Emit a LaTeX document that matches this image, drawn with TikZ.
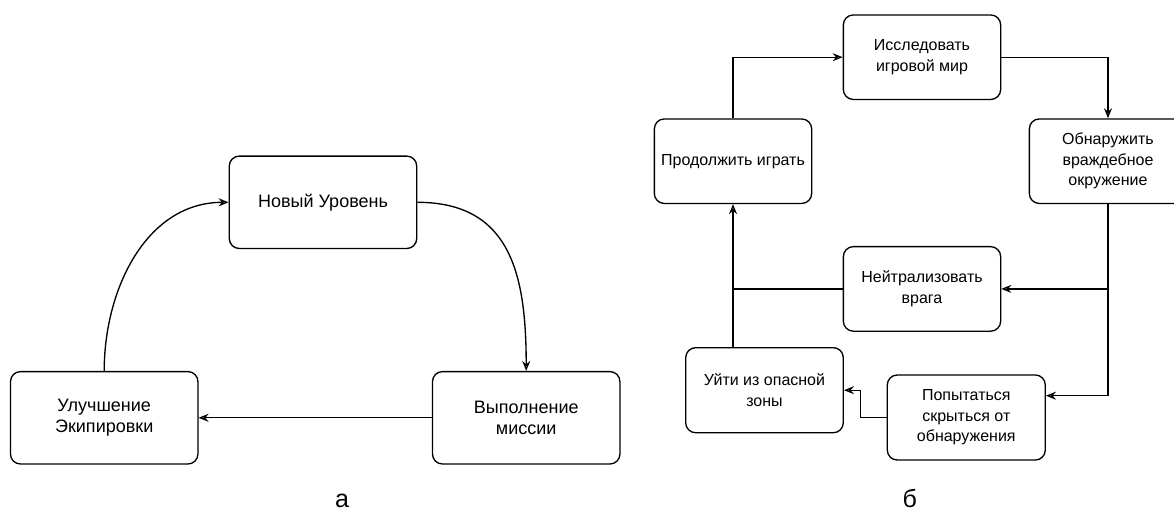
\documentclass[tikz,border=0pt]{standalone}
\usepackage{fontspec}
\setmainfont{Liberation Sans}
\usetikzlibrary{arrows.meta}
\begin{document}
\begin{tikzpicture}[x=0.75pt,y=-0.75pt,
  box/.style={draw, rounded corners=7.5pt, line width=1pt, align=center, inner sep=0pt},
  lbox/.style={box, minimum width=140.6pt, minimum height=69.3pt, font=\fontsize{13.5}{15.5}\selectfont},
  sbox/.style={box, minimum width=118pt, minimum height=63.4pt, font=\fontsize{12}{15.4}\selectfont},
  link/.style={line width=1pt},
  arr/.style={link, -{Stealth[open, length=7.5pt, width=6pt, inset=2.5pt]}},
  figlabel/.style={font=\fontsize{18.75}{22}\selectfont, anchor=base, inner sep=0pt}]
\useasboundingbox (0,0) rectangle (1174,511);
\clip (0,0) rectangle (1174,511);

% (a) level cycle
\node[lbox] (N) at (323,202.3) {Новый Уровень};
\node[lbox] (U) at (104.2,417.8) {Улучшение\\Экипировки};
\node[lbox] (V) at (526.2,417.8) {Выполнение\\миссии};
\draw[arr] (U.north) to[out=90,in=180] (N.west);
\draw[arr] (N.east) to[out=0,in=90,looseness=1.2] (V.north);
\draw[arr] (V.west) -- (U.east);
\node[figlabel] (la) at (342,507.3) {а};

% (b) encounter loop
\node[sbox] (I) at (922,57.2) {Исследовать\\игровой мир};
\node[sbox] (P) at (733,161.2) {Продолжить играть};
\node[sbox] (O) at (1108,161.2) {Обнаружить\\враждебное\\окружение};
\node[sbox] (Nz) at (922,288.9) {Нейтрализовать\\врага};
\node[sbox, minimum width=118.2pt, minimum height=63.8pt] (Uy) at (764.5,390.2) {Уйти из опасной\\зоны};
\node[sbox, minimum width=118.5pt, minimum height=63.8pt] (Po) at (966.3,417.5) {Попытаться\\скрыться от\\обнаружения};

\coordinate (hideY) at (0,395.7);
\coordinate (bendX) at (860.7,0);

\draw[arr] (P.north) |- (I.west);
\draw[arr] (I.east) -| (O.north);
\draw[arr] (O.south) |- (Po.east |- hideY);
\draw[arr] (O.south |- Nz.east) -- (Nz.east);
\draw[link] (Nz.west) -- (Nz.west -| P.south);
\draw[arr] (Uy.north -| P.south) -- (P.south);
\draw[arr] (Po.west) -- (Po.west -| bendX) |- (Uy.east);
\node[figlabel] (lb) at (909.7,507.3) {б};
\end{tikzpicture}
\end{document}
